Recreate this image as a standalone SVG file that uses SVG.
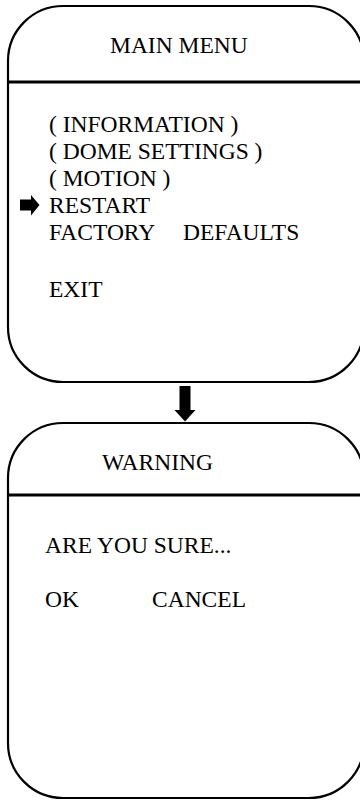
<svg xmlns="http://www.w3.org/2000/svg" width="360" height="800" viewBox="0 0 360 800">
<style>
.box{fill:#fff;stroke:#000;stroke-width:2.2}
.div{stroke:#000;stroke-width:3}
.t{font-family:'Liberation Serif','Times New Roman',serif;font-size:23.5px;fill:#000}
</style>
<rect width="360" height="800" fill="#fff"/>
<g id="main-menu">
<rect class="box" x="8" y="6" width="356" height="376" rx="55" ry="55"/>
<line class="div" x1="8" y1="82" x2="364" y2="82"/>
<text class="t" x="110" y="53">MAIN MENU</text>
<text class="t" x="49" y="132">( INFORMATION )</text>
<text class="t" x="49" y="159">( DOME SETTINGS )</text>
<text class="t" x="49" y="186">( MOTION )</text>
<text class="t" x="49" y="213">RESTART</text>
<text class="t" x="49" y="240">FACTORY<tspan x="183">DEFAULTS</tspan></text>
<text class="t" x="49" y="297">EXIT</text>
<path id="pointer" d="M20,199.5 H31 V195 L39.5,205 L31,215.5 V210.5 H20 Z" fill="#000"/>
</g>
<g id="warning">
<rect class="box" x="8" y="423" width="356" height="375" rx="55" ry="55"/>
<line class="div" x1="8" y1="495" x2="364" y2="495"/>
<text class="t" x="102" y="470">WARNING</text>
<text class="t" x="45" y="553">ARE YOU SURE...</text>
<text class="t" x="45" y="607">OK</text>
<text class="t" x="152" y="607">CANCEL</text>
</g>
<g id="connectors">
<path d="M179.5,386 H190.5 V410 H195.5 L185,421.5 L174.5,410 H179.5 Z" fill="#000"/>
</g>
</svg>
